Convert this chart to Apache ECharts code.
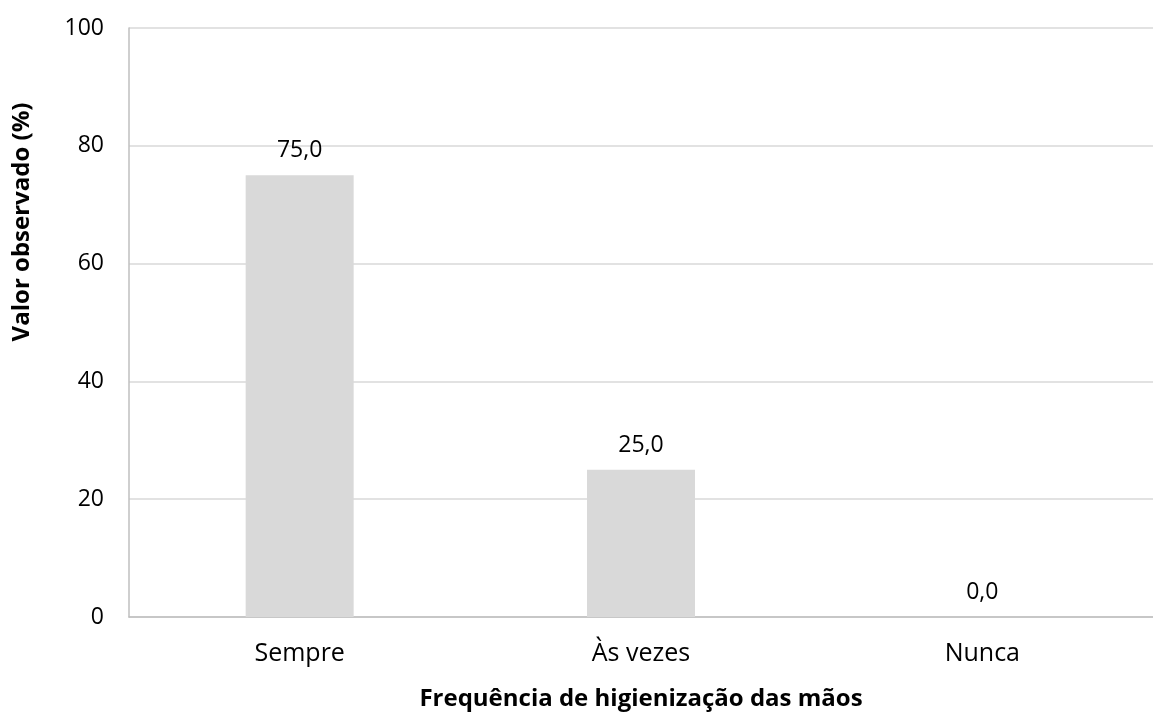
<!DOCTYPE html>
<html>
<head>
<meta charset="utf-8">
<script src="https://cdn.jsdelivr.net/npm/echarts@6/dist/echarts.min.js"></script>
<style>
  html, body { margin: 0; padding: 0; background: #fff; }
  #chart { width: 1153px; height: 716px; }
</style>
</head>
<body>
<div id="chart"></div>
<script>
var categories = ['Sempre', 'Às vezes', 'Nunca'];
var values = [75.0, 25.0, 0.0];
var yTicks = { min: 0, max: 100, interval: 20 };

var font = '"Open Sans", "Liberation Sans", sans-serif';

option = {
    backgroundColor: '#ffffff',
    animation: false,
    textStyle: { fontFamily: font },
    grid: {
        left: 129,
        top: 28,
        width: 1042,
        height: 594
    },
    // y title sits above the plot centre in the original, so place it by hand
    graphic: [
        {
            type: 'text',
            x: 22,
            y: 222,
            rotation: Math.PI / 2,
            style: {
                text: 'Valor observado (%)',
                font: 'bold 24px ' + font,
                fill: '#000',
                align: 'center',
                verticalAlign: 'middle'
            }
        }
    ],
    xAxis: {
        type: 'category',
        data: categories,
        name: 'Frequência de higienização das mãos',
        nameLocation: 'middle',
        nameGap: 70,
        nameTextStyle: { fontSize: 24, fontWeight: 'bold', color: '#000', fontFamily: font },
        axisLine: { lineStyle: { color: '#bfbfbf', width: 1.5 } },
        axisTick: { show: false },
        axisLabel: { fontSize: 25, color: '#000', margin: 24, fontFamily: font }
    },
    yAxis: {
        type: 'value',
        min: yTicks.min,
        max: yTicks.max,
        interval: yTicks.interval,
        axisLine: { show: true, lineStyle: { color: '#bfbfbf', width: 1.5 } },
        axisTick: { show: false },
        axisLabel: { fontSize: 23, color: '#000', margin: 25, fontFamily: font },
        splitLine: { lineStyle: { color: '#d9d9d9', width: 1.5 } }
    },
    series: [
        {
            type: 'bar',
            data: values,
            barWidth: 108,
            itemStyle: { color: '#d9d9d9' },
            label: {
                show: true,
                position: 'top',
                distance: 13,
                fontSize: 23,
                color: '#000',
                fontFamily: font,
                formatter: function (p) { return p.value.toFixed(1).replace('.', ','); }
            }
        }
    ]
};
var myChart = echarts.init(document.getElementById('chart'));
myChart.setOption(option);
</script>
</body>
</html>
